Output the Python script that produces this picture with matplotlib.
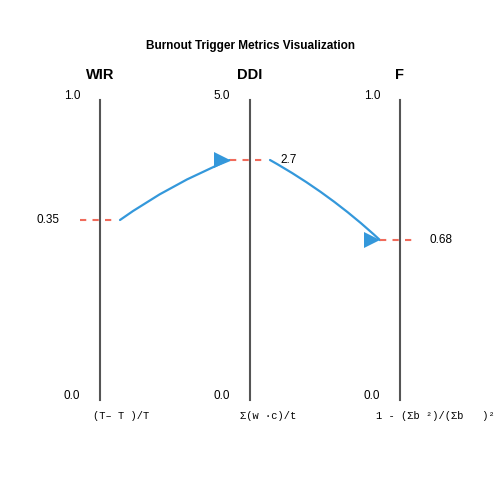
import matplotlib.pyplot as plt
from matplotlib.patches import FancyArrowPatch

# metric data
names = ["WIR", "DDI", "F"]
maxes = [1.0, 5.0, 1.0]
values = [0.35, 2.7, 0.68]
value_labels = ["0.35", "2.7", "0.68"]
# plotted fraction of axis height
plot_pos = [0.6, 0.8, 0.533]
formulas = ["(T\u2013 T )/T", "\u03a3(w \u00b7c)/t", "1 - (\u03a3b \u00b2)/(\u03a3b   )\u00b2"]

xs = [100, 250, 400]
formula_x = [93, 240, 376]
top, bottom = 100, 400

fig = plt.figure(figsize=(5, 5), dpi=100)
ax = fig.add_axes([0, 0, 1, 1])
ax.set_xlim(0, 500)
ax.set_ylim(500, 0)
ax.axis("off")

ax.text(250, 46, "Burnout Trigger Metrics Visualization", ha="center", va="center",
        fontsize=8.5, fontweight="bold", family="Liberation Sans")


def ypos(p):
    return bottom - p * (bottom - top)


pts = []
for i, x in enumerate(xs):
    ax.plot([x, x], [top, bottom], color="#555555", lw=1.5)
    ax.text(x, 75, names[i], ha="center", va="center", fontsize=10.5,
            fontweight="bold", family="Liberation Sans")
    ax.text(x - 28, 96, f"{maxes[i]:.1f}", ha="center", va="center", fontsize=8.5,
            family="Liberation Sans")
    ax.text(x - 28, 396, "0.0", ha="center", va="center", fontsize=8.5,
            family="Liberation Sans")
    ax.text(formula_x[i], 416, formulas[i], ha="left", va="center", fontsize=7.5,
            family="Liberation Mono")
    y = ypos(plot_pos[i])
    ax.plot([x - 20, x + 17], [y, y], color="#f06b5b", lw=1.5, ls=(0, (3, 3)))
    pts.append(y)

ax.text(48, pts[0], value_labels[0], ha="center", va="center", fontsize=8.5,
        family="Liberation Sans")
ax.text(280, pts[1], value_labels[1], ha="left", va="center", fontsize=8.5,
        family="Liberation Sans")
ax.text(430, pts[2], value_labels[2], ha="left", va="center", fontsize=8.5,
        family="Liberation Sans")

segs = [((xs[0] + 20, pts[0]), (xs[1] - 20, pts[1])),
        ((xs[1] + 20, pts[1]), (xs[2] - 20, pts[2]))]
for a, b in segs:
    arr = FancyArrowPatch(a, b, connectionstyle="arc3,rad=-0.06",
                          arrowstyle="-", color="#3498db", lw=1.6,
                          shrinkA=0, shrinkB=0)
    ax.add_patch(arr)
    ax.plot(b[0] - 8, b[1], marker=">", markersize=11, color="#3498db",
            markeredgewidth=0)

fig.savefig("out.png", dpi=100)
